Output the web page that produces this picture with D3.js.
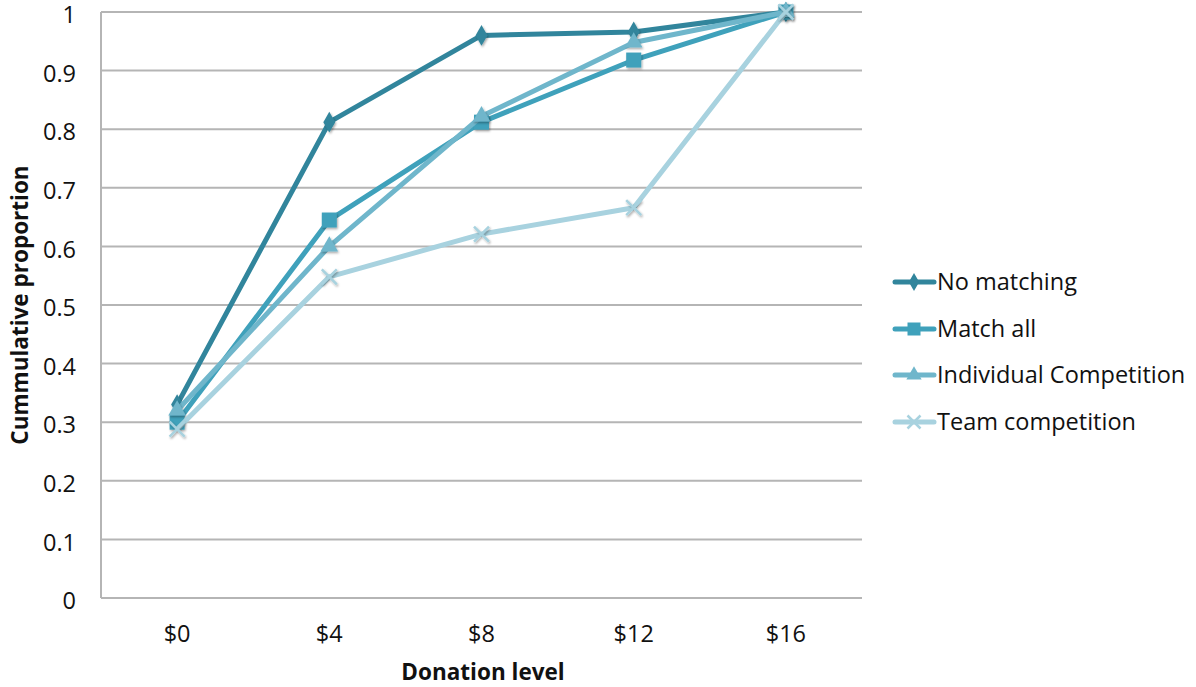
<!DOCTYPE html>
<html><head><meta charset="utf-8">
<script src="https://cdn.jsdelivr.net/npm/d3@7"></script>
<style>body{margin:0;background:#fff;font-family:"Open Sans",sans-serif;}</style>
</head><body><svg id="c" width="1196" height="687" font-family="Open Sans, sans-serif"></svg>
<script>
const categories = ["$0","$4","$8","$12","$16"];
const seriesNames = ["No matching","Match all","Individual Competition","Team competition"];
const noMatching = [0.33, 0.812, 0.96, 0.966, 1.0];
const matchAll = [0.30, 0.645, 0.812, 0.918, 1.0];
const individualComp = [0.32, 0.60, 0.822, 0.948, 1.0];
const teamComp = [0.288, 0.548, 0.621, 0.666, 1.0];
const yTicks = [0,0.1,0.2,0.3,0.4,0.5,0.6,0.7,0.8,0.9,1];
const colors = ["#31859c","#3fa1bb","#6fb6cb","#a8d2df"];
const markers = ["diamond","square","triangle","cross"];

const svg = d3.select("#c");
const m = {l:101, r:862, t:12, b:598};
const x = d3.scaleBand().domain(categories).range([m.l, m.r]).padding(0);
const y = d3.scaleLinear().domain([0,1]).range([m.b, m.t]);

const defs = svg.append("defs");
const f = defs.append("filter").attr("id","sh").attr("x","-50%").attr("y","-50%").attr("width","200%").attr("height","200%");
f.append("feDropShadow").attr("dx",1).attr("dy",1.5).attr("stdDeviation",1.2).attr("flood-color","#000").attr("flood-opacity",0.35);

svg.append("g").selectAll("line").data(yTicks.filter(d=>d>0)).join("line")
  .attr("x1",m.l).attr("x2",m.r).attr("y1",d=>y(d)).attr("y2",d=>y(d))
  .attr("stroke","#b5b5b5").attr("stroke-width",2);
svg.append("line").attr("x1",m.l).attr("x2",m.l).attr("y1",m.t).attr("y2",m.b).attr("stroke","#b5b5b5").attr("stroke-width",2);
svg.append("line").attr("x1",m.l).attr("x2",m.r).attr("y1",m.b).attr("y2",m.b).attr("stroke","#b5b5b5").attr("stroke-width",2);

svg.append("g").selectAll("text").data(yTicks).join("text")
  .attr("x",76).attr("y",d=>y(d)+3).attr("dy","0.35em").attr("text-anchor","end")
  .attr("font-size",23.5).attr("fill","#111").text(d=>d===0||d===1?String(d):d.toFixed(1));
svg.append("g").selectAll("text").data(categories).join("text")
  .attr("x",d=>x(d)+x.bandwidth()/2).attr("y",634).attr("dy","0.35em").attr("text-anchor","middle")
  .attr("font-size",23.5).attr("fill","#111").text(d=>d);
svg.append("text").attr("x",483).attr("y",672).attr("dy","0.35em").attr("text-anchor","middle")
  .attr("font-size",22.5).attr("font-weight","bold").attr("fill","#111").text("Donation level");
svg.append("text").attr("transform","translate(20,305) rotate(-90)").attr("dy","0.35em").attr("text-anchor","middle")
  .attr("font-size",22.5).attr("font-weight","bold").attr("fill","#111").text("Cummulative proportion");

function marker(g, type, color, s){
  if(type==="diamond"){
    g.append("path").attr("d",d3.symbol(d3.symbolDiamond, s*s*0.55)()).attr("fill",color);
  } else if(type==="square"){
    g.append("rect").attr("x",-s/2).attr("y",-s/2).attr("width",s).attr("height",s).attr("fill",color);
  } else if(type==="triangle"){
    g.append("path").attr("d",d3.symbol(d3.symbolTriangle, s*s*0.6)()).attr("fill",color);
  } else {
    const h=s/2;
    g.append("path").attr("d",`M${-h},${-h}L${h},${h}M${-h},${h}L${h},${-h}`).attr("stroke",color).attr("stroke-width",2.5);
  }
}

const allSeries = [noMatching, matchAll, individualComp, teamComp];
const line = d3.line().x((d,i)=>x(categories[i])+x.bandwidth()/2).y(d=>y(d));
allSeries.forEach((vals,si)=>{
  const g = svg.append("g");
  g.append("path").datum(vals).attr("d",line).attr("fill","none").attr("stroke",colors[si]).attr("stroke-width",5).attr("stroke-linejoin","round");
  vals.forEach((v,i)=>{
    const mg = g.append("g").attr("transform",`translate(${x(categories[i])+x.bandwidth()/2},${y(v)})`).attr("filter","url(#sh)");
    marker(mg, markers[si], colors[si], 15);
  });
});

const lg = svg.append("g");
const rowsY = [282, 329, 375, 422];
seriesNames.forEach((n,i)=>{
  const g = lg.append("g").attr("transform",`translate(0,${rowsY[i]})`);
  g.append("line").attr("x1",895).attr("x2",934).attr("y1",0).attr("y2",0).attr("stroke",colors[i]).attr("stroke-width",5).attr("stroke-linecap","round");
  const mg = g.append("g").attr("transform","translate(914,0)");
  marker(mg, markers[i], colors[i], 13);
  g.append("text").attr("x",937).attr("y",0).attr("dy","0.36em").attr("font-size",23.5).attr("fill","#111").text(n);
});
</script></body></html>
